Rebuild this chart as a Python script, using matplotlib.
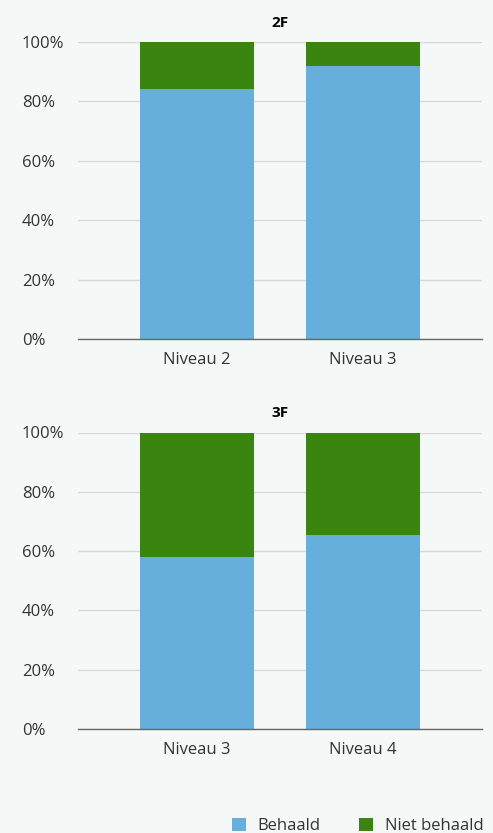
import matplotlib.pyplot as plt
from matplotlib.patches import Patch

# Data
top_title = "2F"
top_categories = ["Niveau 2", "Niveau 3"]
top_behaald = [84.2, 91.9]

bottom_title = "3F"
bottom_categories = ["Niveau 3", "Niveau 4"]
bottom_behaald = [57.9, 65.3]

yticks = [0, 20, 40, 60, 80, 100]
ytick_labels = ["0%", "20%", "40%", "60%", "80%", "100%"]

blue = "#66aedb"
green = "#39850f"
bg = "#f4f9f7"
text_col = "#333333"

plt.rcParams["font.family"] = ["Open Sans", "DejaVu Sans"]

fig = plt.figure(figsize=(4.93, 8.33), dpi=100, facecolor=bg)
W, H = 493, 833


def draw_panel(bottom_px, top_px, title, categories, behaald):
    ax = fig.add_axes([78 / W, 1 - bottom_px / H, 404 / W, (bottom_px - top_px) / H])
    ax.set_facecolor(bg)
    x = list(range(len(categories)))
    niet = [100 - v for v in behaald]
    ax.bar(x, behaald, width=0.69, color=blue, zorder=3)
    ax.bar(x, niet, width=0.69, bottom=behaald, color=green, zorder=3)
    ax.set_xlim(-0.72, 1.72)
    ax.set_ylim(0, 100)
    ax.set_yticks(yticks)
    ax.set_yticklabels(ytick_labels)
    ax.set_xticks(x)
    ax.set_xticklabels(categories)
    ax.tick_params(axis="both", length=0, labelsize=12, colors=text_col)
    ax.tick_params(axis="y", pad=40.3)
    ax.tick_params(axis="x", pad=9)
    for lbl in ax.get_yticklabels():
        lbl.set_horizontalalignment("left")
    ax.grid(axis="y", color="#d6d9d8", linewidth=1, zorder=0)
    for s in ["top", "right", "left"]:
        ax.spines[s].set_visible(False)
    ax.spines["bottom"].set_color("#666666")
    ax.spines["bottom"].set_linewidth(1)
    ax.spines["bottom"].set_zorder(4)
    ax.set_title(title, fontsize=11, fontweight="bold", color="black", pad=11)
    return ax


draw_panel(339, 42, top_title, top_categories, top_behaald)
draw_panel(729, 432.5, bottom_title, bottom_categories, bottom_behaald)

handles = [Patch(facecolor=blue, label="Behaald"), Patch(facecolor=green, label="Niet behaald")]
fig.legend(handles=handles, loc="center left", bbox_to_anchor=(232 / W, 1 - 826 / H),
           ncol=2, frameon=False, fontsize=12, labelcolor=text_col,
           handlelength=0.85, handleheight=0.85, handletextpad=0.7, columnspacing=2.3,
           borderaxespad=0, borderpad=0)

fig.savefig("out.png", dpi=100, facecolor=bg)
